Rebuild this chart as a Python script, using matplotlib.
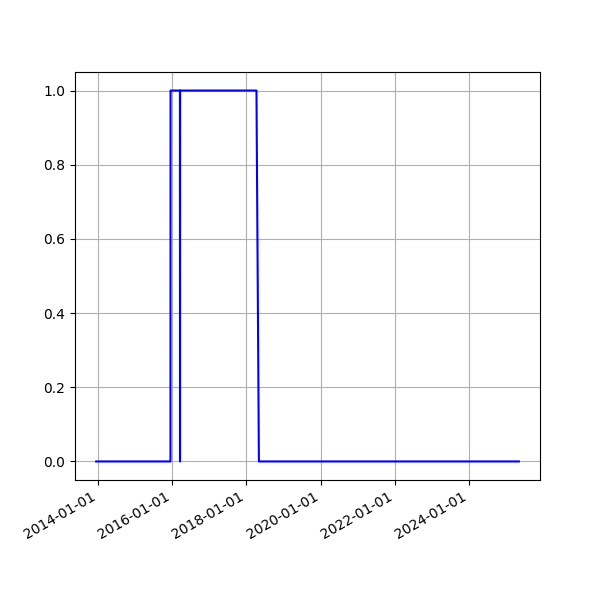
"""Binary state timeline."""

import matplotlib
matplotlib.use("Agg")
import matplotlib.pyplot as plt
import matplotlib.dates as mdates
import pandas as pd

# points where the state changes
dates = [
    "2013-12-16", "2015-12-17", "2015-12-18", "2016-03-19",
    "2016-03-20", "2016-03-21", "2018-04-11", "2018-05-05", "2025-05-05",
]
state = [0, 0, 1, 1, 0, 1, 1, 0, 0]

t = pd.to_datetime(dates)

fig, ax = plt.subplots(figsize=(6, 6), dpi=100)
ax.plot(t, state, color="blue")
ax.xaxis.set_major_locator(mdates.YearLocator(2))
ax.xaxis.set_major_formatter(mdates.DateFormatter("%Y-%m-%d"))
ax.grid(True)
fig.autofmt_xdate()

fig.savefig("out.png", dpi=100)
plt.close(fig)
